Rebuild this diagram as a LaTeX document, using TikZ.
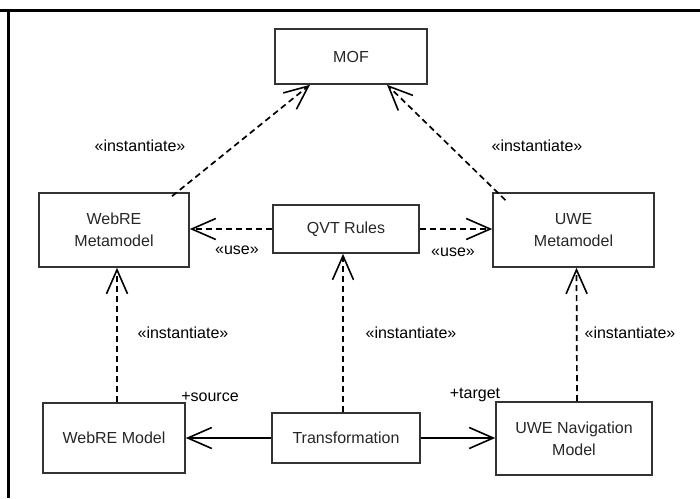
\documentclass[tikz,border=0pt]{standalone}
\usepackage{fontspec}
\setmainfont{Liberation Sans}
\usetikzlibrary{arrows.meta,positioning}
\tikzset{
  box/.style={
    draw=black!80,
    line width=1.6pt,
    rectangle,
    align=center,
    inner sep=2pt,
    text=black!85,
    font=\fontsize{16}{22}\selectfont
  },
  stereo/.style={
    font=\fontsize{16}{18}\selectfont,
    inner sep=1pt
  },
  dep/.style={
    line width=1.7pt,
    dash pattern=on 6pt off 4pt,
    -{Straight Barb[length=24pt,width=21pt,line width=1.6pt]}
  },
  assoc/.style={
    line width=2.4pt,
    -{Straight Barb[length=24pt,width=21pt,line width=1.6pt]}
  },
}

\begin{document}
\begin{tikzpicture}[x=1pt,y=-1pt]
                \useasboundingbox (0,0) rectangle (700,498);

                \draw[line width=3pt] (0,10) -- (700,10);
                \draw[line width=3pt] (8,10) -- (8,498);

                \node[box, minimum width=152pt, minimum height=55pt] (mof) at (351,56.5) {MOF};
                \node[box, minimum width=150pt, minimum height=74pt] (webremeta) at (114,230) {WebRE\\Metamodel};
                \node[box, minimum width=146pt, minimum height=48pt] (qvt) at (346,229) {QVT Rules};
                \node[box, minimum width=161pt, minimum height=74pt] (uwemeta) at (573.5,230) {UWE\\Metamodel};
                \node[box, minimum width=142pt, minimum height=70pt] (webremodel) at (114,438) {WebRE Model};
                \node[box, minimum width=148pt, minimum height=50pt] (trans) at (346,438) {Transformation};
                \node[box, minimum width=156pt, minimum height=73pt] (uwenav) at (574,438.5) {UWE Navigation\\Model};

                \draw[dep] ([xshift=58pt,yshift=-4pt]webremeta.north) -- ([xshift=-41pt]mof.south);
                \draw[dep] ([xshift=-68pt,yshift=-8pt]uwemeta.north) -- ([xshift=36pt]mof.south);
                \draw[dep] (qvt.west) -- (qvt.west -| webremeta.east);
                \draw[dep] (qvt.east) -- (qvt.east -| uwemeta.west);
                \draw[dep] ([xshift=3pt]webremodel.north) -- ([xshift=3pt]webremeta.south);
                \draw[dep] ([xshift=-3pt]trans.north) -- ([xshift=-3pt]qvt.south);
                \draw[dep] ([xshift=3pt]uwenav.north) -- ([xshift=3pt]uwemeta.south);
                \draw[assoc] (trans.west) -- (trans.west -| webremodel.east);
                \draw[assoc] (trans.east) -- (trans.east -| uwenav.west);

                \node[stereo] (inst1) at (140,146) {«instantiate»};
                \node[stereo] (inst2) at (537,146) {«instantiate»};
                \node[stereo] (use1) at (237,250) {«use»};
                \node[stereo] (use2) at (453,252) {«use»};
                \node[stereo] (inst3) at (183,333) {«instantiate»};
                \node[stereo] (inst4) at (411,333) {«instantiate»};
                \node[stereo] (inst5) at (630,333) {«instantiate»};
                \node[stereo] (src) at (210,397) {+source};
                \node[stereo] (tgt) at (475,395) {+target};
    \end{tikzpicture}
\end{document}
